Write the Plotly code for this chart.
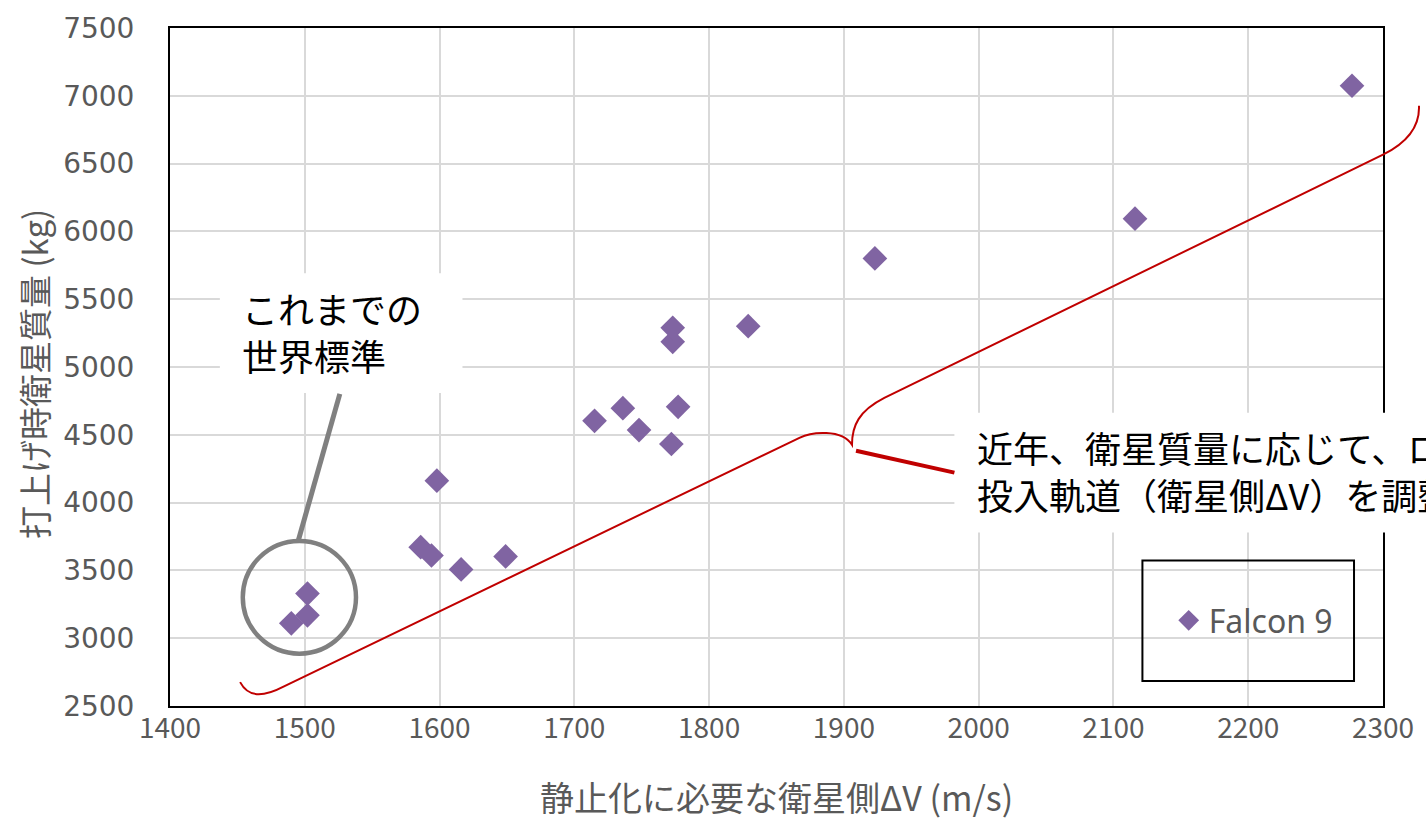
import plotly.graph_objects as go

# Falcon 9 GEO missions: satellite-side delta-V needed to reach GEO vs. launch mass
delta_v = [1490, 1502, 1502, 1586, 1594, 1598, 1616, 1649,
           1715, 1736, 1748, 1772, 1773, 1773, 1777, 1829,
           1923, 2116, 2277]
mass_kg = [3110, 3169, 3329, 3671, 3610, 4162, 3507, 3603,
           4603, 4696, 4535, 4432, 5186, 5289, 4706, 5301,
           5801, 6094, 7074]
series_name = "Falcon 9"

x_ticks = [1400, 1500, 1600, 1700, 1800, 1900, 2000, 2100, 2200, 2300]
y_ticks = [2500, 3000, 3500, 4000, 4500, 5000, 5500, 6000, 6500, 7000, 7500]

X_RANGE = (1400, 2300)
Y_RANGE = (2500, 7500)

W, H = 1426, 822
M_L, M_R, M_T, M_B = 170, 41, 26, 116

PURPLE = "#8064A2"
RED = "#C00000"
GREY_TXT = "#595959"
GRID = "#D9D9D9"


def px(x):
    """ΔV value -> paper fraction (works outside the axis range too)."""
    return (x - X_RANGE[0]) / (X_RANGE[1] - X_RANGE[0])


def py(y):
    """Mass value -> paper fraction."""
    return (y - Y_RANGE[0]) / (Y_RANGE[1] - Y_RANGE[0])


def path(cmds):
    out = []
    for c in cmds:
        if isinstance(c, str):
            out.append(c)
        else:
            out.append(f"{px(c[0]):.5f},{py(c[1]):.5f}")
    return " ".join(out)


fig = go.Figure()
fig.add_trace(go.Scatter(
    x=delta_v, y=mass_kg, mode="markers", name=series_name,
    marker=dict(symbol="diamond", size=19, color=PURPLE),
    showlegend=True,
))

shapes = []

# white boxes behind the two callout texts
shapes.append(dict(type="rect", xref="paper", yref="paper", layer="above",
                   x0=px(1437), x1=px(1617), y0=py(4809), y1=py(5691),
                   fillcolor="white", line=dict(width=0)))
shapes.append(dict(type="rect", xref="paper", yref="paper", layer="above",
                   x0=px(1982), x1=px(2340), y0=py(3779), y1=py(4662),
                   fillcolor="white", line=dict(width=0)))

# circle around the earlier standard group and its leader line
shapes.append(dict(type="circle", xref="paper", yref="paper", layer="above",
                   x0=px(1454), x1=px(1538), y0=py(2886), y1=py(3717),
                   line=dict(color="#808080", width=4.5)))
shapes.append(dict(type="line", xref="paper", yref="paper", layer="above",
                   x0=px(1526), y0=py(4802), x1=px(1495), y1=py(3713),
                   line=dict(color="#808080", width=5)))

# red curly brace along the lower edge of the point cloud
brace = path([
    "M", (1452, 2676),
    "C", (1458, 2566), (1468, 2559), (1485, 2647),
    "L", (1867, 4478),
    "C", (1876, 4522), (1898.5, 4544), (1906, 4426),
    "C", (1906, 4566), (1911, 4676), (1930, 4772),
    "L", (2300, 6566),
    "C", (2315, 6640), (2327.4, 6750), (2326.7, 6926),
])
shapes.append(dict(type="path", xref="paper", yref="paper", layer="above",
                   path=brace, line=dict(color=RED, width=2)))
shapes.append(dict(type="line", xref="paper", yref="paper", layer="above",
                   x0=px(1909), y0=py(4382), x1=px(1982), y1=py(4221),
                   line=dict(color=RED, width=4)))

# legend frame
shapes.append(dict(type="rect", xref="paper", yref="paper", layer="above",
                   x0=px(2121.5), x1=px(2278.5), y0=py(2684), y1=py(3573),
                   fillcolor="rgba(0,0,0,0)", line=dict(color="black", width=2)))

annotations = [
    dict(text="これまでの<br>世界標準", xref="paper", yref="paper",
         x=px(1452), y=py(5640), xanchor="left", yanchor="top", align="left",
         showarrow=False,
         font=dict(family="Noto Sans CJK JP", size=36, color="black")),
    dict(text="近年、衛星質量に応じて、ロケット<br>投入軌道（衛星側ΔV）を調整",
         xref="paper", yref="paper",
         x=px(1997), y=py(4614), xanchor="left", yanchor="top", align="left",
         showarrow=False,
         font=dict(family="Noto Sans CJK JP", size=36, color="black")),
    dict(text="静止化に必要な衛星側ΔV (m/s)", xref="paper", yref="paper",
         x=0.5, y=-0.133, xanchor="center", yanchor="middle", showarrow=False,
         font=dict(family="Noto Sans CJK JP", size=34, color=GREY_TXT)),
    dict(text="打上げ時衛星質量 (kg)", xref="paper", yref="paper",
         x=-0.112, y=0.49, xanchor="center", yanchor="middle", showarrow=False,
         textangle=-90,
         font=dict(family="Noto Sans CJK JP", size=33, color=GREY_TXT)),
]

fig.update_layout(
    width=W, height=H,
    margin=dict(l=M_L, r=M_R, t=M_T, b=M_B, pad=0),
    paper_bgcolor="white", plot_bgcolor="white",
    shapes=shapes, annotations=annotations,
    legend=dict(x=px(2141), y=py(3130), xanchor="left", yanchor="middle",
                bgcolor="rgba(0,0,0,0)", borderwidth=0,
                font=dict(family="Noto Sans", size=32, color=GREY_TXT)),
    xaxis=dict(range=list(X_RANGE), tickvals=x_ticks,
               ticktext=[str(v) for v in x_ticks],
               showgrid=True, gridcolor=GRID, gridwidth=1.5, zeroline=False,
               showline=True, linecolor="black", linewidth=2, mirror=True,
               ticks="", ticklabelstandoff=-4,
               tickfont=dict(family="Noto Sans CJK JP", size=28, color=GREY_TXT)),
    yaxis=dict(range=list(Y_RANGE), tickvals=y_ticks,
               ticktext=[str(v) for v in y_ticks],
               showgrid=True, gridcolor=GRID, gridwidth=1.5, zeroline=False,
               showline=True, linecolor="black", linewidth=2, mirror=True,
               ticks="", ticklabelstandoff=28,
               tickfont=dict(family="DejaVu Sans", size=28, color=GREY_TXT)),
)

fig.write_html("out.html")
